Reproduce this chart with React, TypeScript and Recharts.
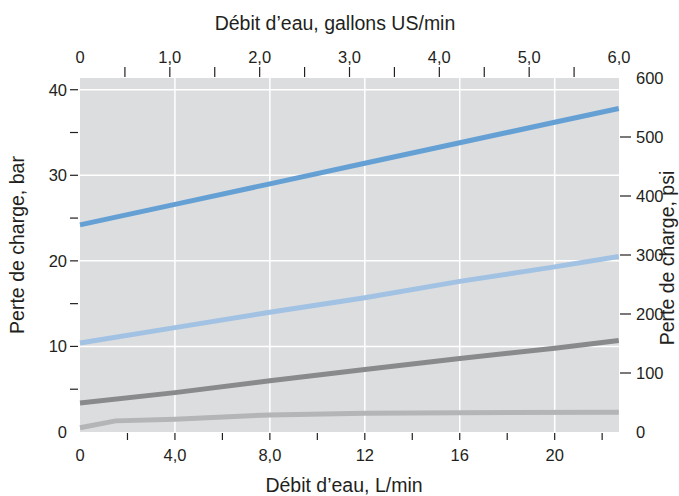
import React from 'react';
import { CartesianGrid, Line, LineChart, XAxis, YAxis } from 'recharts';

// flow in L/min, pressure loss in bar
const seriesBlue = [
  { lpm: 0, bar: 24.2 },
  { lpm: 4, bar: 26.6 },
  { lpm: 8, bar: 29.0 },
  { lpm: 12, bar: 31.4 },
  { lpm: 16, bar: 33.8 },
  { lpm: 20, bar: 36.2 },
  { lpm: 22.7, bar: 37.8 },
];
const seriesLightBlue = [
  { lpm: 0, bar: 10.4 },
  { lpm: 4, bar: 12.2 },
  { lpm: 8, bar: 14.0 },
  { lpm: 12, bar: 15.7 },
  { lpm: 16, bar: 17.6 },
  { lpm: 20, bar: 19.3 },
  { lpm: 22.7, bar: 20.5 },
];
const seriesGray = [
  { lpm: 0, bar: 3.4 },
  { lpm: 4, bar: 4.6 },
  { lpm: 8, bar: 6.0 },
  { lpm: 12, bar: 7.3 },
  { lpm: 16, bar: 8.6 },
  { lpm: 20, bar: 9.8 },
  { lpm: 22.7, bar: 10.7 },
];
const seriesLightGray = [
  { lpm: 0, bar: 0.5 },
  { lpm: 1.5, bar: 1.3 },
  { lpm: 4, bar: 1.5 },
  { lpm: 8, bar: 2.0 },
  { lpm: 12, bar: 2.2 },
  { lpm: 16, bar: 2.25 },
  { lpm: 22.7, bar: 2.3 },
];

const lpmTicks = [0, 2, 4, 6, 8, 10, 12, 14, 16, 18, 20, 22];
const lpmLabels: Record<number, string> = { 0: '0', 4: '4,0', 8: '8,0', 12: '12', 16: '16', 20: '20' };
const gpmTicks = [0, 0.5, 1, 1.5, 2, 2.5, 3, 3.5, 4, 4.5, 5, 5.5, 6];
const gpmLabels: Record<number, string> = { 0: '0', 1: '1,0', 2: '2,0', 3: '3,0', 4: '4,0', 5: '5,0', 6: '6,0' };
const barTicks = [0, 5, 10, 15, 20, 25, 30, 35, 40];
const psiTicks = [0, 100, 200, 300, 400, 500, 600];
const gridLpm = [4, 8, 12, 16, 20];
const gridBar = [10, 20, 30, 40];

const LPM_MAX = 22.71; // 6 US gal/min
const BAR_MAX = 41.37; // 600 psi

// corners of the secondary (gpm / psi) axes, so those axes get a domain
const secondaryFrame = [
  { gpm: gpmTicks[0], psi: psiTicks[0] },
  { gpm: gpmTicks[gpmTicks.length - 1], psi: psiTicks[psiTicks.length - 1] },
];

const textColor = '#231f20';
const font = '"Liberation Sans", Arial, Helvetica, sans-serif';
const tickFont = 16.5;

const BottomTick = (props: any) => {
  const { x, y, payload } = props;
  const v = payload.value;
  return (
    <g>
      {v !== 0 && <line x1={x} x2={x} y1={y + 1} y2={y + 8} stroke={textColor} strokeWidth={1.2} />}
      {lpmLabels[v] && (
        <text x={x} y={y + 29} textAnchor="middle" fontSize={tickFont} fill={textColor} fontFamily={font}>
          {lpmLabels[v]}
        </text>
      )}
    </g>
  );
};

const TopTick = (props: any) => {
  const { x, y, payload } = props;
  const v = payload.value;
  return (
    <g>
      {v !== 0 && v !== 6 && <line x1={x} x2={x} y1={y - 11} y2={y - 1} stroke={textColor} strokeWidth={1.2} />}
      {gpmLabels[v] && (
        <text x={x} y={y - 15} textAnchor="middle" fontSize={tickFont} fill={textColor} fontFamily={font}>
          {gpmLabels[v]}
        </text>
      )}
    </g>
  );
};

const LeftTick = (props: any) => {
  const { x, y, payload } = props;
  const v = payload.value;
  return (
    <g>
      {v !== 0 && <line x1={x - 10} x2={x - 2} y1={y} y2={y} stroke={textColor} strokeWidth={1.2} />}
      {v % 10 === 0 && (
        <text x={x - 13} y={y + 6} textAnchor="end" fontSize={tickFont} fill={textColor} fontFamily={font}>
          {v}
        </text>
      )}
    </g>
  );
};

const RightTick = (props: any) => {
  const { x, y, payload } = props;
  const v = payload.value;
  return (
    <g>
      {v !== 0 && v !== 600 && <line x1={x + 1} x2={x + 12} y1={y} y2={y} stroke={textColor} strokeWidth={1.2} />}
      <text x={x + 17} y={y + 6} textAnchor="start" fontSize={tickFont} fill={textColor} fontFamily={font}>
        {v}
      </text>
    </g>
  );
};

export default function App() {
  return (
    <div style={{ position: 'fixed', left: 0, top: 0, width: 679, height: 496, background: '#fff' }}>
      <LineChart width={679} height={496} margin={{ top: 0, right: 0, bottom: 0, left: 0 }}>
        <CartesianGrid
          xAxisId="lpm"
          yAxisId="bar"
          fill="#dcdddf"
          fillOpacity={1}
          stroke="#ffffff"
          strokeWidth={1.5}
          verticalValues={gridLpm}
          horizontalValues={gridBar}
        />
        <XAxis
          xAxisId="lpm"
          type="number"
          dataKey="lpm"
          domain={[0, LPM_MAX]}
          ticks={lpmTicks}
          orientation="bottom"
          height={64}
          axisLine={false}
          tickLine={false}
          tickSize={0}
          tickMargin={0}
          interval={0}
          tick={<BottomTick />}
        />
        <XAxis
          xAxisId="gpm"
          type="number"
          dataKey="gpm"
          domain={[0, 6]}
          ticks={gpmTicks}
          orientation="top"
          height={78}
          axisLine={false}
          tickLine={false}
          tickSize={0}
          tickMargin={0}
          interval={0}
          tick={<TopTick />}
        />
        <YAxis
          yAxisId="bar"
          type="number"
          domain={[0, BAR_MAX]}
          ticks={barTicks}
          orientation="left"
          width={80}
          axisLine={false}
          tickLine={false}
          tickSize={0}
          tickMargin={0}
          interval={0}
          tick={<LeftTick />}
        />
        <YAxis
          yAxisId="psi"
          type="number"
          domain={[0, 600]}
          ticks={psiTicks}
          orientation="right"
          width={60}
          axisLine={false}
          tickLine={false}
          tickSize={0}
          tickMargin={0}
          interval={0}
          tick={<RightTick />}
        />
        <Line data={secondaryFrame} xAxisId="gpm" yAxisId="psi" dataKey="psi" stroke="none" dot={false} activeDot={false} isAnimationActive={false} />
        <Line data={seriesLightGray} xAxisId="lpm" yAxisId="bar" dataKey="bar" type="linear" stroke="#b4b5b7" strokeWidth={5} dot={false} isAnimationActive={false} />
        <Line data={seriesGray} xAxisId="lpm" yAxisId="bar" dataKey="bar" type="linear" stroke="#898a8c" strokeWidth={5} dot={false} isAnimationActive={false} />
        <Line data={seriesLightBlue} xAxisId="lpm" yAxisId="bar" dataKey="bar" type="linear" stroke="#a2c2e3" strokeWidth={5} dot={false} isAnimationActive={false} />
        <Line data={seriesBlue} xAxisId="lpm" yAxisId="bar" dataKey="bar" type="linear" stroke="#65a0d4" strokeWidth={5} dot={false} isAnimationActive={false} />
      </LineChart>
      <svg width={679} height={496} style={{ position: 'absolute', left: 0, top: 0, pointerEvents: 'none' }}>
        <g fontFamily={font} fill={textColor} textAnchor="middle" fontSize={19.5}>
          <text x={335} y={30}>Débit d’eau, gallons US/min</text>
          <text x={344} y={492}>Débit d’eau, L/min</text>
          <text x={24} y={245} transform="rotate(-90, 24, 245)">Perte de charge, bar</text>
          <text x={674} y={258} transform="rotate(-90, 674, 258)">Perte de charge, psi</text>
        </g>
      </svg>
    </div>
  );
}
